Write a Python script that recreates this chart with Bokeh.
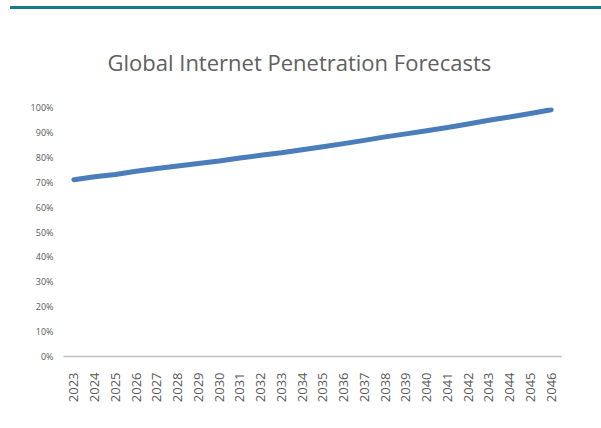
import numpy as np
from bokeh.plotting import figure
from bokeh.models import Div, NumeralTickFormatter, Title, FixedTicker
from bokeh.layouts import column
from bokeh.embed import file_html
from bokeh.resources import INLINE

years = [str(y) for y in range(2023, 2047)]
penetration = [0.710, 0.722, 0.731, 0.744, 0.755, 0.765, 0.775, 0.785,
               0.797, 0.808, 0.818, 0.830, 0.842, 0.855, 0.868, 0.882,
               0.894, 0.907, 0.920, 0.934, 0.949, 0.962, 0.976, 0.991]
y_ticks = [i / 10 for i in range(11)]

bar = Div(text="", width=591, height=3,
          styles={"background-color": "#1b7a8f"}, margin=(6, 0, 0, 10))

p = figure(x_range=years, y_range=(0, 1.0), width=593, height=411,
           output_backend="svg", toolbar_location=None,
           min_border_left=63, min_border_right=32,
           min_border_top=98, min_border_bottom=64)
p.title = Title(text="Global Internet Penetration Forecasts", align="left",
                offset=44,
                text_font="Open Sans", text_font_size="22px",
                text_font_style="normal", text_color="#606060", standoff=62)
p.line(years, penetration, line_color="#4a7ebb", line_width=5,
       line_cap="round", line_join="round")

p.outline_line_color = None
p.xgrid.grid_line_color = None
p.ygrid.grid_line_color = None
p.x_range.range_padding = 0

p.yaxis.ticker = FixedTicker(ticks=y_ticks)
p.yaxis.formatter = NumeralTickFormatter(format="0%")
p.yaxis.axis_line_color = None
p.yaxis.major_tick_line_color = None
p.yaxis.minor_tick_line_color = None
p.yaxis.major_label_text_font = "Open Sans"
p.yaxis.major_label_text_font_size = "9px"
p.yaxis.major_label_text_color = "#595959"
p.yaxis.major_label_standoff = 4

p.xaxis.axis_line_color = "#bfbfbf"
p.xaxis.axis_line_width = 1.5
p.xaxis.major_tick_line_color = None
p.xaxis.minor_tick_line_color = None
p.xaxis.major_label_orientation = np.pi / 2
p.xaxis.major_label_text_font = "Open Sans"
p.xaxis.major_label_text_font_size = "13px"
p.xaxis.major_label_text_color = "#595959"
p.xaxis.major_label_standoff = 10

layout = column(bar, p, spacing=0)
open("out.html", "w").write(file_html(layout, INLINE))
